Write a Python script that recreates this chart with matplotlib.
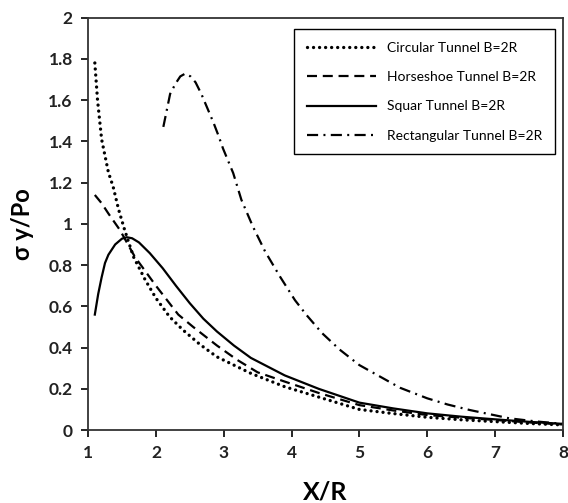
import matplotlib
matplotlib.use("Agg")
import matplotlib.pyplot as plt

# values
circ_x = [1.1, 1.14, 1.2, 1.3, 1.37, 1.45, 1.54, 1.67, 1.84, 2.0, 2.2, 2.4, 2.65, 2.9, 3.4, 3.9, 4.4, 5.0, 5.5, 6.0, 6.5, 7.0, 7.5, 8.0]
circ_y = [1.78, 1.60, 1.41, 1.25, 1.18, 1.07, 0.97, 0.84, 0.73, 0.64, 0.55, 0.485, 0.415, 0.355, 0.275, 0.21, 0.16, 0.10, 0.08, 0.062, 0.05, 0.041, 0.032, 0.025]

horse_x = [1.1, 1.2, 1.3, 1.47, 1.69, 2.0, 2.33, 2.55, 2.9, 3.2, 3.5, 3.9, 4.4, 5.0, 5.5, 6.0, 6.5, 7.0, 7.5, 8.0]
horse_y = [1.14, 1.10, 1.05, 0.97, 0.84, 0.70, 0.56, 0.50, 0.41, 0.34, 0.28, 0.235, 0.18, 0.121, 0.095, 0.073, 0.06, 0.049, 0.037, 0.027]

squar_x = [1.1, 1.15, 1.2, 1.25, 1.3, 1.4, 1.5, 1.57, 1.65, 1.75, 1.91, 2.1, 2.3, 2.5, 2.7, 2.9, 3.15, 3.4, 3.9, 4.4, 5.0, 5.5, 6.0, 6.5, 7.0, 7.5, 8.0]
squar_y = [0.56, 0.66, 0.74, 0.81, 0.85, 0.90, 0.928, 0.935, 0.93, 0.91, 0.858, 0.785, 0.698, 0.615, 0.54, 0.478, 0.41, 0.35, 0.265, 0.20, 0.133, 0.105, 0.081, 0.065, 0.052, 0.04, 0.03]

rect_x = [2.11, 2.16, 2.21, 2.29, 2.36, 2.43, 2.51, 2.585, 2.67, 2.76, 2.85, 2.92, 2.99, 3.14, 3.26, 3.43, 3.61, 3.83, 4.05, 4.22, 4.45, 4.71, 5.0, 5.3, 5.6, 6.0, 6.3, 6.63, 7.21, 7.6, 8.0]
rect_y = [1.47, 1.55, 1.63, 1.68, 1.715, 1.728, 1.715, 1.686, 1.63, 1.56, 1.49, 1.43, 1.365, 1.246, 1.117, 0.987, 0.866, 0.744, 0.63, 0.558, 0.47, 0.39, 0.315, 0.26, 0.205, 0.154, 0.124, 0.097, 0.057, 0.042, 0.03]

labels = ["Circular Tunnel B=2R", "Horseshoe Tunnel B=2R", "Squar Tunnel B=2R", "Rectangular Tunnel B=2R"]

plt.rcParams['font.family'] = ['Lato', 'DejaVu Sans']

fig = plt.figure(figsize=(5.68, 5.03), dpi=100, facecolor='white')
ax = fig.add_axes([0.155, 0.145, 0.836, 0.82])

ax.plot(circ_x, circ_y, color='black', lw=2.4, linestyle=(0, (0.01, 1.8)),
        dash_capstyle='round', label=labels[0])
ax.plot(horse_x, horse_y, color='black', lw=1.6, linestyle=(0, (4.5, 2.6)), label=labels[1])
ax.plot(squar_x, squar_y, color='black', lw=1.6, label=labels[2])
ax.plot(rect_x, rect_y, color='black', lw=1.6, linestyle=(0, (5, 2.4, 0.9, 2.4)), label=labels[3])

ax.set_xlim(1, 8)
ax.set_ylim(0, 2)
ax.set_xticks(range(1, 9))
ax.set_yticks([0, 0.2, 0.4, 0.6, 0.8, 1, 1.2, 1.4, 1.6, 1.8, 2])
ax.set_yticklabels(["0", "0.2", "0.4", "0.6", "0.8", "1", "1.2", "1.4", "1.6", "1.8", "2"])
ax.tick_params(direction='out', length=5, width=1.2, labelsize=12.5, pad=6)
for lab in ax.get_xticklabels() + ax.get_yticklabels():
    lab.set_fontweight('bold')
    lab.set_color('#222222')
for sp in ax.spines.values():
    sp.set_linewidth(1.3)
    sp.set_color('#333333')

ax.set_xlabel("X/R", fontsize=18, fontweight='bold', labelpad=14)
ax.set_ylabel("σ y/Po", fontsize=17, fontweight='bold', labelpad=10)

leg = ax.legend(loc='upper right', bbox_to_anchor=(0.983, 0.972), fontsize=10,
                handlelength=5.0, labelspacing=1.25, borderpad=0.9, handletextpad=0.8,
                fancybox=False, edgecolor='black', framealpha=1, borderaxespad=0)
leg.get_frame().set_linewidth(1.0)

plt.savefig("out.png", dpi=100, facecolor='white')
plt.close()
